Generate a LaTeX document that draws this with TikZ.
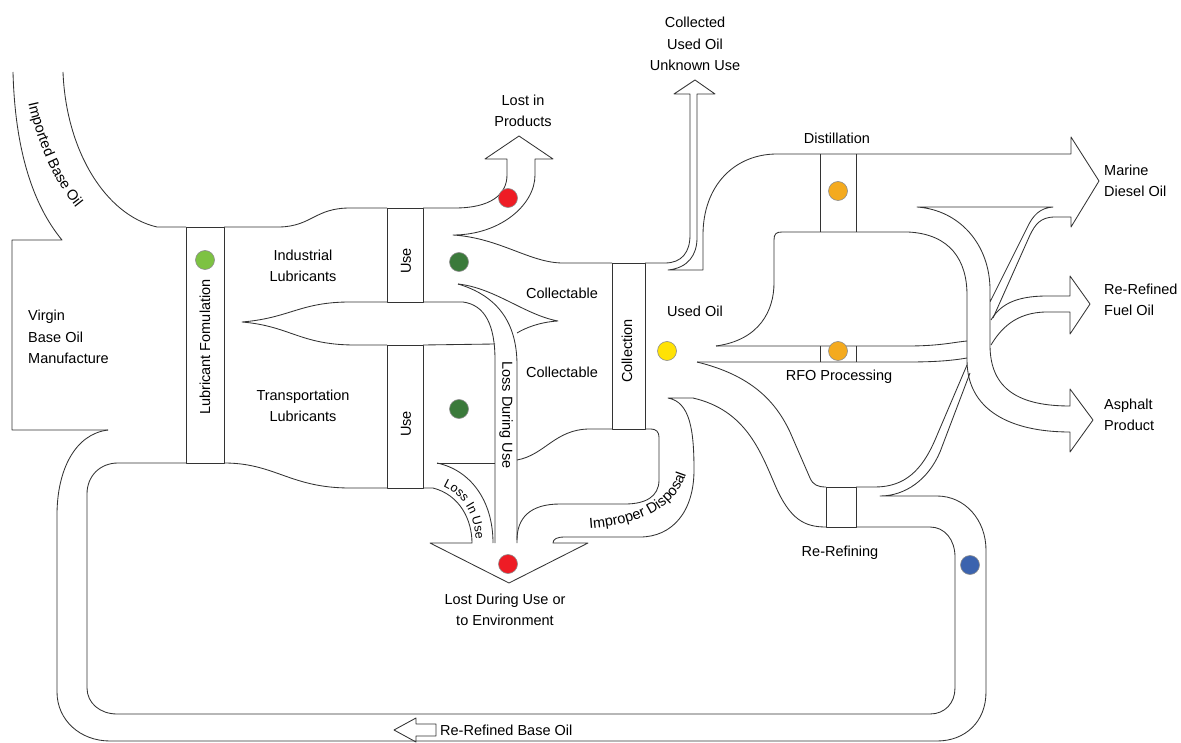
\documentclass[tikz,border=0pt]{standalone}
\usepackage{fontspec}
\setmainfont{Liberation Sans}
\usetikzlibrary{decorations.text}
\definecolor{lgreen}{HTML}{7DC242}
\definecolor{dgreen}{HTML}{3B7A3B}
\definecolor{redd}{HTML}{EE1C25}
\definecolor{yell}{HTML}{FFE205}
\definecolor{orng}{HTML}{F4AA1E}
\definecolor{bluu}{HTML}{3B63AE}
\newcommand\dfont{\fontsize{14.5}{17}\selectfont}
\newcommand\sfont{\fontsize{12.5}{15}\selectfont}
\begin{document}
\begin{tikzpicture}[x=1pt,y=-1pt,line join=round,
  ln/.style={draw=black!80, line width=0.85pt},
  lbl/.style={font=\fontsize{14.5}{21.5}\selectfont, align=center, inner sep=0pt},
  dot/.style={circle, minimum size=19pt, inner sep=0pt, draw=black!45, line width=0.6pt}]
\useasboundingbox (0,0) rectangle (1181,743);

% imported base oil band and virgin box
\draw[ln] (13,72) .. controls (15,150) and (33,205) .. (62,240) -- (12,240) -- (12,430) -- (108,430);
\draw[ln] (63,72) .. controls (66,150) and (105,215) .. (157,227) -- (186,227);

% formulation bar
\draw[ln] (186,227) rectangle (224,463);

% industrial band
\draw[ln] (224,227) -- (280,227) .. controls (312,226) and (315,208) .. (350,208) -- (387,208);
\draw[ln] (387,208) rectangle (423,302);
\draw[ln] (423,208) -- (455,208) .. controls (490,208) and (507,195) .. (507,175) -- (507,159) -- (485,159) -- (519,136) -- (553,159) -- (535,159) -- (535,175) .. controls (535,205) and (500,235) .. (453,235) .. controls (500,238) and (530,263) .. (563,263) -- (612,263);

% wedge between bands
\draw[ln] (387,302) -- (350,302) .. controls (300,302) and (290,318) .. (242,322) .. controls (290,326) and (300,345) .. (355,345) -- (387,345);

% transportation
\draw[ln] (387,345) rectangle (423,488);
\draw[ln] (423,345) -- (495,344);
\draw[ln] (224,463) .. controls (275,463) and (290,488) .. (350,488) -- (387,488);

% loss during use band
\draw[ln] (423,302) -- (463,302) .. controls (485,305) and (495,325) .. (495,360) -- (495,543);
\draw[ln] (458,284) .. controls (495,295) and (517,320) .. (517,365) -- (517,543);
\draw[ln] (458,284) .. controls (495,288) and (525,315) .. (558,321) .. controls (540,322) and (525,328) .. (517,333);

% loss in use, arrow head, improper disposal, re-refining lower inflow
\draw[ln] (423,488) -- (433,488) .. controls (460,495) and (472,520) .. (472,543) -- (430,543) -- (509,583) -- (588,543) -- (553,543) .. controls (553,539) and (557,537) .. (565,537) -- (640,537) .. controls (672,537) and (694,512) .. (694,470) .. controls (694,430) and (690,402) .. (668,398) -- (693,398) .. controls (745,410) and (760,450) .. (775,485) .. controls (790,520) and (805,527) .. (826,527);
\draw[ln] (437,463) .. controls (470,470) and (493,500) .. (493,543);
\draw[ln] (437,463) -- (495,463);

% collectable lower and collection bar
\draw[ln] (517,460) .. controls (545,455) and (555,429) .. (590,429) -- (612,429);
\draw[ln] (612,263) rectangle (645,429);
\draw[ln] (645,429) -- (651,429) .. controls (656,429) and (659,432) .. (659,437) -- (659,480) .. controls (659,497) and (645,504) .. (625,504) -- (560,504) .. controls (530,504) and (517,518) .. (517,540);

% unknown use, distillation, marine diesel
\draw[ln] (645,263) -- (665,263) .. controls (682,263) and (690,252) .. (690,235) -- (690,94) -- (674,94) -- (695,80) -- (715,94) -- (697,94) -- (697,238) .. controls (697,255) and (688,268) .. (668,270) -- (703,270) -- (703,235) .. controls (703,185) and (735,154) .. (777,154) -- (1071,154) -- (1071,137) -- (1099,181) -- (1071,227) -- (1071,217) -- (1055,217) .. controls (1040,217) and (1035,225) .. (1030,235) -- (993,318);
\draw[ln] (820,154) -- (820,232) (856,154) -- (856,232);

% block to junction, asphalt
\draw[ln] (716,346) .. controls (760,340) and (774,310) .. (774,283) -- (774,240) .. controls (774,234) and (776,232) .. (782,232) -- (908,232) .. controls (950,234) and (967,260) .. (967,295) -- (967,360) .. controls (967,410) and (1010,432) .. (1070,432) -- (1070,452) -- (1093,420) -- (1070,389) -- (1070,406) .. controls (1020,406) and (990,390) .. (990,345) -- (990,290) .. controls (990,245) and (960,210) .. (917,207) -- (1053,207) .. controls (1040,208) and (1033,215) .. (1027,228) -- (990,302);

% RFO band
\draw[ln] (716,346) -- (908,346) .. controls (940,346) and (955,342) .. (967,341);
\draw[ln] (697,362) -- (908,362) .. controls (940,362) and (955,360) .. (967,358);
\draw[ln] (820,346) -- (820,362) (856,346) -- (856,362);

% RFO arrow
\draw[ln] (991,320) .. controls (1000,305) and (1015,296) .. (1047,296) -- (1070,296) -- (1070,276) -- (1090,304) -- (1070,334) -- (1070,312) -- (1047,312) .. controls (1015,312) and (1000,330) .. (991,345);

% re-refining
\draw[ln] (697,362) .. controls (750,375) and (775,400) .. (790,432) -- (810,478) .. controls (813,485) and (818,487) .. (826,487);
\draw[ln] (826,487) rectangle (856,527);
\draw[ln] (856,487) -- (875,487) .. controls (905,487) and (922,470) .. (935,440) -- (967,365);

% re-refined base oil loop
\draw[ln] (970,373) -- (940,452) .. controls (928,480) and (905,496) .. (880,496) -- (937,496) .. controls (965,496) and (986,520) .. (986,550) -- (986,692) .. controls (986,722) and (965,741) .. (937,741) -- (110,741) .. controls (80,741) and (57,720) .. (57,692) -- (57,515) .. controls (57,470) and (75,434) .. (108,430);
\draw[ln] (186,463) -- (118,463) .. controls (100,463) and (87,476) .. (87,494) -- (87,688) .. controls (87,703) and (100,714) .. (117,714) -- (930,714) .. controls (945,714) and (955,703) .. (955,688) -- (955,557) .. controls (955,540) and (945,527) .. (930,527) -- (856,527);
\draw[ln] (394,730) -- (416,718) -- (416,724) -- (436,724) -- (436,736) -- (416,736) -- (416,742) -- cycle;

% dots
\node[dot, fill=lgreen] (d1) at (205,260) {};
\node[dot, fill=dgreen] (d2) at (459,262) {};
\node[dot, fill=dgreen] (d3) at (459,409) {};
\node[dot, fill=redd] (d4) at (508,198) {};
\node[dot, fill=redd] (d5) at (508,564) {};
\node[dot, fill=yell] (d6) at (667,351) {};
\node[dot, fill=orng] (d7) at (838,191) {};
\node[dot, fill=orng] (d8) at (838,351) {};
\node[dot, fill=bluu] (d9) at (970,565) {};

% labels
\node[lbl, anchor=west, align=left] (virgin) at (28,337) {Virgin\\Base Oil\\Manufacture};
\node[lbl, rotate=90] (form) at (205,347) {Lubricant Fomulation};
\node[lbl] (ind) at (303,266) {Industrial\\Lubricants};
\node[lbl] (trans) at (303,406) {Transportation\\Lubricants};
\node[lbl, rotate=90] (use1) at (406,261) {Use};
\node[lbl, rotate=90] (use2) at (406,424) {Use};
\node[lbl] (lip) at (523,111) {Lost in\\Products};
\node[lbl] (col1) at (562,293) {Collectable};
\node[lbl] (col2) at (562,372) {Collectable};
\node[lbl, rotate=-90] (ldu) at (506,415) {Loss During Use};
\node[lbl, rotate=90] (coll) at (627,351) {Collection};
\node[lbl] (uo) at (695,311) {Used Oil};
\node[lbl] (unk) at (695,44) {Collected\\Used Oil\\Unknown Use};
\node[lbl] (dist) at (837,138) {Distillation};
\node[lbl] (rfo) at (839,377) {RFO Processing};
\node[lbl] (rr) at (840,553) {Re-Refining};
\node[lbl, anchor=west, align=left] (mdo) at (1104,181) {Marine\\Diesel Oil};
\node[lbl, anchor=west, align=left] (rfuel) at (1104,300) {Re-Refined\\Fuel Oil};
\node[lbl, anchor=west, align=left] (asph) at (1104,415) {Asphalt\\Product};
\node[lbl] (lost) at (505,610) {Lost During Use or\\to Environment};
\node[lbl, anchor=west] (rrbo) at (440,730) {Re-Refined Base Oil};

% curved labels
\path[decorate, decoration={text along path, text={|\dfont|Imported Base Oil}, text align=center}] (27,97) .. controls (36,140) and (52,180) .. (80,213);
\path[decorate, decoration={text along path, text={|\sfont|Loss In Use}, text align=center}] (437,484) .. controls (464,492) and (476,517) .. (476,546);
\path[decorate, decoration={text along path, text={|\dfont|Improper Disposal}, text align=center}] (578,529) .. controls (632,527) and (681,512) .. (689,463);
\end{tikzpicture}
\end{document}
